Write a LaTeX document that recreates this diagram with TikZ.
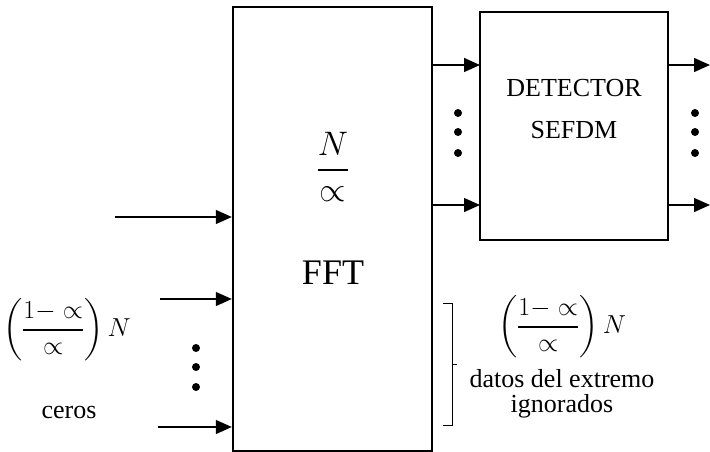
\RequirePackage{fix-cm}
\documentclass[tikz,border=0pt]{standalone}
\usepackage{fontspec}
\setmainfont{Liberation Serif}
\usepackage{amsmath,amssymb}
\usetikzlibrary{arrows.meta}

\begin{document}
\begin{tikzpicture}[
    x=1pt, y=-1pt,
    blk/.style={draw, line width=2.4pt, inner sep=0pt},
    arr/.style={line width=1.3pt, -{Triangle[length=16pt,width=14pt]}},
    lbl/.style={font=\fontsize{26}{30}\selectfont, inner sep=0pt},
    dotc/.style={fill=black}
]
\useasboundingbox (0,0) rectangle (710,452);

% blocks
\node[blk, minimum width=199pt, minimum height=444pt] (fft) at (332.5,229) {};
\node[blk, minimum width=188pt, minimum height=228pt] (det) at (574,126) {};

\node[lbl, font=\fontsize{34}{40}\selectfont] (frac) at (333,167) {$\displaystyle\frac{N}{\propto}$};
\node[lbl, font=\fontsize{36}{40}\selectfont] (ffttxt) at (333,273) {FFT};
\node[lbl, align=center, font=\fontsize{26}{42}\selectfont] (dettxt) at (574,109) {DETECTOR\\SEFDM};

% inputs
\coordinate (in1) at (115,217);
\coordinate (in2) at (160,299);
\coordinate (in3) at (158,427);
\draw[arr] (in1) -- (in1 -| fft.west);
\draw[arr] (in2) -- (in2 -| fft.west);
\draw[arr] (in3) -- (in3 -| fft.west);
\foreach \y in {348,367,387} \fill[dotc] (196,\y) circle (4pt);

\node[lbl] (zleft) at (67,330) {$\displaystyle\left(\frac{1-\propto}{\propto}\right)N$};
\node[lbl] (ceros) at (69,412) {ceros};

% fft -> detector
\coordinate (m1) at (480,65);
\coordinate (m2) at (480,205);
\draw[arr] (fft.east |- m1) -- (m1);
\draw[arr] (fft.east |- m2) -- (m2);
\foreach \y in {113,132,153} \fill[dotc] (458,\y) circle (4pt);

% outputs
\coordinate (out1) at (710,65);
\coordinate (out2) at (710,205);
\draw[arr] (det.east |- out1) -- (out1);
\draw[arr] (det.east |- out2) -- (out2);
\foreach \y in {113,132,153} \fill[dotc] (695,\y) circle (4pt);

% ignored data
\draw[line width=1pt] (443,303) -- (452,303) -- (452,425) -- (443,425);
\draw[line width=1pt] (452,364) -- (457,364);
\node[lbl] (zright) at (562,327) {$\displaystyle\left(\frac{1-\propto}{\propto}\right)N$};
\node[lbl, align=center, font=\fontsize{26}{25}\selectfont] (ign) at (562,394) {datos del extremo\\ignorados};

\end{tikzpicture}
\end{document}
